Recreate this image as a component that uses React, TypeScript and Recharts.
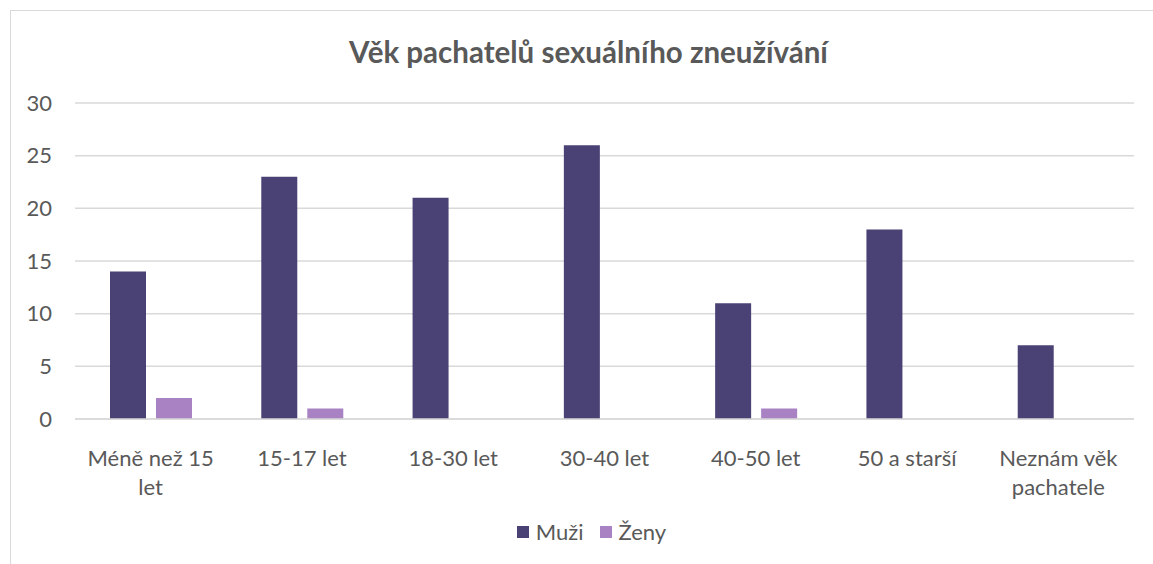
import React from "react";
import { BarChart, Bar, XAxis, YAxis, CartesianGrid } from "recharts";

// Kategorie věku pachatele
const categories = [
  "Méně než 15 let",
  "15-17 let",
  "18-30 let",
  "30-40 let",
  "40-50 let",
  "50 a starší",
  "Neznám věk pachatele",
];
// zalomení popisků jako v originále
const categoryLines = [
  ["Méně než 15", "let"],
  ["15-17 let"],
  ["18-30 let"],
  ["30-40 let"],
  ["40-50 let"],
  ["50 a starší"],
  ["Neznám věk", "pachatele"],
];
const muzi = [14, 23, 21, 26, 11, 18, 7];
const zeny = [2, 1, 0, 0, 1, 0, 0];
const yTicks = [0, 5, 10, 15, 20, 25, 30];

const FONT = "Lato, 'Open Sans', sans-serif";
const TEXT = "#595959";
const GRID = "#d9d9d9";
const COLORS = { muzi: "#4a4174", zeny: "#a982c4" };

const data = categories.map((name, i) => ({ name, Muži: muzi[i], Ženy: zeny[i] }));

const CategoryTick = (props: any) => {
  const { x, y, payload } = props;
  const lines = categoryLines[payload.index] || [payload.value];
  return (
    <text x={x} y={y} textAnchor="middle" fill={TEXT} fontSize={22} fontFamily={FONT}>
      {lines.map((line, i) => (
        <tspan key={i} x={x} dy={i === 0 ? 39 : 29}>
          {line}
        </tspan>
      ))}
    </text>
  );
};

const LegendBox = () => (
  <div
    style={{
      position: "absolute",
      left: 15,
      top: 518,
      width: 1153,
      display: "flex",
      justifyContent: "center",
      gap: 16,
      fontFamily: FONT,
      fontSize: 22,
      lineHeight: "28px",
      color: TEXT,
    }}
  >
    {[
      { label: "Muži", color: COLORS.muzi },
      { label: "Ženy", color: COLORS.zeny },
    ].map((it) => (
      <span key={it.label} style={{ display: "flex", alignItems: "center", gap: 7 }}>
        <span style={{ width: 12, height: 12, background: it.color, display: "inline-block" }} />
        {it.label}
      </span>
    ))}
  </div>
);

export default function App() {
  return (
    <div
      style={{
        position: "fixed",
        left: 0,
        top: 0,
        width: 1153,
        height: 564,
        overflow: "hidden",
        background: "#fff",
      }}
    >
      <div
        style={{
          position: "absolute",
          left: 10,
          top: 10,
          width: 1160,
          height: 570,
          border: "1.5px solid #d9d9d9",
          boxSizing: "border-box",
        }}
      />
      <div
        style={{
          position: "absolute",
          left: 12,
          top: 35,
          width: 1153,
          textAlign: "center",
          fontFamily: FONT,
          fontWeight: 700,
          fontSize: 29.5,
          lineHeight: "34px",
          color: TEXT,
        }}
      >
        Věk pachatelů sexuálního zneužívání
      </div>
      <div style={{ position: "absolute", left: 0, top: 0 }}>
        <BarChart
          width={1153}
          height={564}
          data={data}
          margin={{ top: 103, right: 19, left: 0, bottom: 115 }}
          barSize={36}
          barGap={10}
        >
          <CartesianGrid vertical={false} stroke={GRID} strokeWidth={1.5} />
          <XAxis
            dataKey="name"
            height={30}
            axisLine={{ stroke: GRID, strokeWidth: 1.5 }}
            tickLine={false}
            tick={<CategoryTick />}
            interval={0}
          />
          <YAxis
            domain={[0, 30]}
            ticks={yTicks}
            width={75}
            axisLine={false}
            tickLine={false}
            tickSize={0}
            tickMargin={23}
            tick={{ fill: TEXT, fontSize: 22, fontFamily: FONT }}
          />
          <Bar dataKey="Muži" fill={COLORS.muzi} isAnimationActive={false} />
          <Bar dataKey="Ženy" fill={COLORS.zeny} isAnimationActive={false} />
        </BarChart>
      </div>
      <LegendBox />
    </div>
  );
}
